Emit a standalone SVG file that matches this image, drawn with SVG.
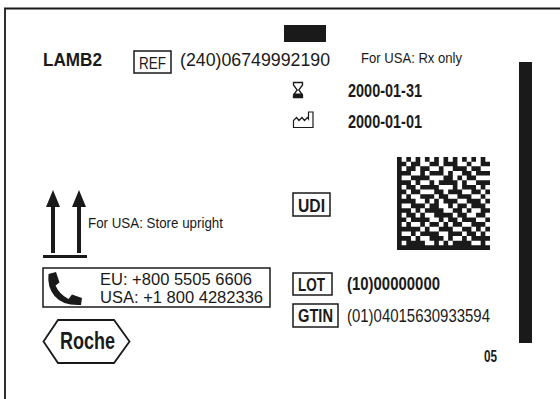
<svg xmlns="http://www.w3.org/2000/svg" width="560" height="399" viewBox="0 0 560 399">
<style>
.t{font-family:"Liberation Sans",Arial,sans-serif;fill:#1a1a1a}
.b{font-weight:bold}
.box{fill:none;stroke:#1a1a1a;stroke-width:1.5}
.ink{fill:#1a1a1a}
</style>
<rect x="0" y="0" width="560" height="399" fill="#fff"/>
<g id="frame"><path d="M5,399 V8.5 H560" fill="none" stroke="#1a1a1a" stroke-width="1.8"/></g>
<g id="top-bar"><rect class="ink" x="284" y="25" width="42" height="17"/></g>
<g id="side-bar"><rect class="ink" x="519" y="62" width="13" height="281"/></g>
<g id="product">
<text class="t b" x="43" y="66" font-size="19" textLength="59" lengthAdjust="spacingAndGlyphs">LAMB2</text>
</g>
<g id="ref">
<rect class="box" x="134" y="51" width="37" height="22"/>
<text class="t" x="139" y="69" font-size="17" textLength="27" lengthAdjust="spacingAndGlyphs">REF</text>
<text class="t" x="180" y="66" font-size="19" textLength="150" lengthAdjust="spacingAndGlyphs">(240)06749992190</text>
</g>
<g id="rx"><text class="t" x="361" y="63" font-size="15" textLength="101" lengthAdjust="spacingAndGlyphs">For USA: Rx only</text></g>
<g id="expiry">
<path d="M293.5,82.5 H302.5 V85 L298.8,90 L302.5,95 V97.5 H293.5 V95 L297.2,90 L293.5,85 Z" fill="none" stroke="#1a1a1a" stroke-width="1.3"/>
<path class="ink" d="M293.5,93.5 H302.5 V97.5 H293.5 Z"/>
<text class="t b" x="348" y="97" font-size="18" textLength="74" lengthAdjust="spacingAndGlyphs">2000-01-31</text>
</g>
<g id="manufacture">
<path d="M293.5,127.5 V120.5 L296.5,117.5 L299,120.5 L302,117.5 L304.5,120.5 L307.5,117.5 L308.5,119 V112 H313 V127.5 Z" fill="none" stroke="#1a1a1a" stroke-width="1.2"/>
<text class="t b" x="348" y="128" font-size="18" textLength="74" lengthAdjust="spacingAndGlyphs">2000-01-01</text>
</g>
<g id="udi">
<rect class="box" x="293" y="193" width="37" height="23"/>
<text class="t b" x="298" y="212" font-size="18" textLength="27" lengthAdjust="spacingAndGlyphs">UDI</text>
</g>
<g id="datamatrix" transform="translate(397,157) scale(4.65)">
<path class="ink" d="M0 0h1v1h-1zM2 0h1v1h-1zM4 0h1v1h-1zM6 0h1v1h-1zM8 0h1v1h-1zM10 0h1v1h-1zM12 0h1v1h-1zM14 0h1v1h-1zM16 0h1v1h-1zM18 0h1v1h-1z
M0 1h2v1h-2zM3 1h2v1h-2zM7 1h2v1h-2zM10 1h3v1h-3zM15 1h1v1h-1zM18 1h2v1h-2z
M0 2h1v1h-1zM2 2h2v1h-2zM5 2h2v1h-2zM9 2h1v1h-1zM12 2h3v1h-3zM16 2h2v1h-2z
M0 3h3v1h-3zM5 3h1v1h-1zM7 3h3v1h-3zM11 3h1v1h-1zM14 3h2v1h-2zM17 3h3v1h-3z
M0 4h1v1h-1zM3 4h4v1h-4zM10 4h2v1h-2zM13 4h1v1h-1zM15 4h2v1h-2z
M0 5h3v1h-3zM4 5h1v1h-1zM7 5h1v1h-1zM9 5h4v1h-4zM14 5h1v1h-1zM17 5h3v1h-3z
M0 6h1v1h-1zM2 6h2v1h-2zM5 6h4v1h-4zM12 6h1v1h-1zM14 6h3v1h-3zM18 6h1v1h-1z
M0 7h2v1h-2zM3 7h2v1h-2zM8 7h2v1h-2zM11 7h3v1h-3zM16 7h2v1h-2zM19 7h1v1h-1z
M0 8h1v1h-1zM2 8h1v1h-1zM5 8h3v1h-3zM9 8h2v1h-2zM13 8h3v1h-3zM18 8h1v1h-1z
M0 9h4v1h-4zM6 9h1v1h-1zM8 9h1v1h-1zM10 9h3v1h-3zM15 9h3v1h-3zM19 9h1v1h-1z
M0 10h1v1h-1zM3 10h3v1h-3zM7 10h2v1h-2zM11 10h1v1h-1zM13 10h2v1h-2zM16 10h3v1h-3z
M0 11h3v1h-3zM4 11h1v1h-1zM6 11h4v1h-4zM12 11h2v1h-2zM15 11h1v1h-1zM18 11h2v1h-2z
M0 12h1v1h-1zM2 12h2v1h-2zM5 12h1v1h-1zM8 12h4v1h-4zM13 12h2v1h-2zM17 12h2v1h-2z
M0 13h2v1h-2zM3 13h4v1h-4zM9 13h1v1h-1zM11 13h2v1h-2zM14 13h3v1h-3zM19 13h1v1h-1z
M0 14h1v1h-1zM2 14h1v1h-1zM5 14h1v1h-1zM7 14h2v1h-2zM10 14h1v1h-1zM12 14h2v1h-2zM16 14h3v1h-3z
M0 15h5v1h-5zM6 15h1v1h-1zM9 15h3v1h-3zM14 15h2v1h-2zM17 15h1v1h-1zM19 15h1v1h-1z
M0 16h1v1h-1zM3 16h1v1h-1zM5 16h4v1h-4zM11 16h3v1h-3zM15 16h2v1h-2zM18 16h1v1h-1z
M0 17h3v1h-3zM4 17h1v1h-1zM7 17h3v1h-3zM11 17h1v1h-1zM14 17h1v1h-1zM16 17h4v1h-4z
M0 18h1v1h-1zM2 18h4v1h-4zM8 18h1v1h-1zM10 18h1v1h-1zM12 18h4v1h-4zM18 18h1v1h-1z
M0 19h20v1h-20z"/>
</g>
<g id="upright">
<path class="ink" d="M53,190 L60,207 H55 V253 H51 V207 H46 Z"/>
<path class="ink" d="M79,190 L86,207 H81 V253 H77 V207 H72 Z"/>
<rect class="ink" x="43" y="255" width="44" height="3"/>
<text class="t" x="88" y="228" font-size="15" textLength="135" lengthAdjust="spacingAndGlyphs">For USA: Store upright</text>
</g>
<g id="contact">
<rect class="box" x="43" y="268" width="227" height="39"/>
<path class="ink" d="M48.5,274 L56,272 L59.5,282.5 L55.5,285.5 Q59.5,294.5 68.5,299 L72,294.5 L82,298 L81,305 Q63,306 54.5,296 Q47,287 48.5,274 Z"/>
<text class="t" x="100" y="284.5" font-size="16" textLength="152" lengthAdjust="spacingAndGlyphs">EU: +800 5505 6606</text>
<text class="t" x="100" y="302.5" font-size="16" textLength="163" lengthAdjust="spacingAndGlyphs">USA: +1 800 4282336</text>
</g>
<g id="roche">
<path d="M58,320 H114 L129.5,341.5 L114,363 H58 L43.5,341.5 Z" fill="none" stroke="#1a1a1a" stroke-width="1.8"/>
<text class="t b" x="60" y="349" font-size="23" textLength="55" lengthAdjust="spacingAndGlyphs">Roche</text>
</g>
<g id="lot">
<rect class="box" x="293" y="273" width="39" height="22"/>
<text class="t b" x="298" y="291" font-size="18" textLength="27" lengthAdjust="spacingAndGlyphs">LOT</text>
<text class="t b" x="347" y="290" font-size="18" textLength="93" lengthAdjust="spacingAndGlyphs">(10)00000000</text>
</g>
<g id="gtin">
<rect class="box" x="293" y="304" width="45" height="23"/>
<text class="t b" x="298" y="322" font-size="18" textLength="35" lengthAdjust="spacingAndGlyphs">GTIN</text>
<text class="t" x="347" y="322" font-size="18" textLength="143" lengthAdjust="spacingAndGlyphs">(01)04015630933594</text>
</g>
<g id="version"><text class="t b" x="484" y="362" font-size="16" textLength="13" lengthAdjust="spacingAndGlyphs">05</text></g>
</svg>
